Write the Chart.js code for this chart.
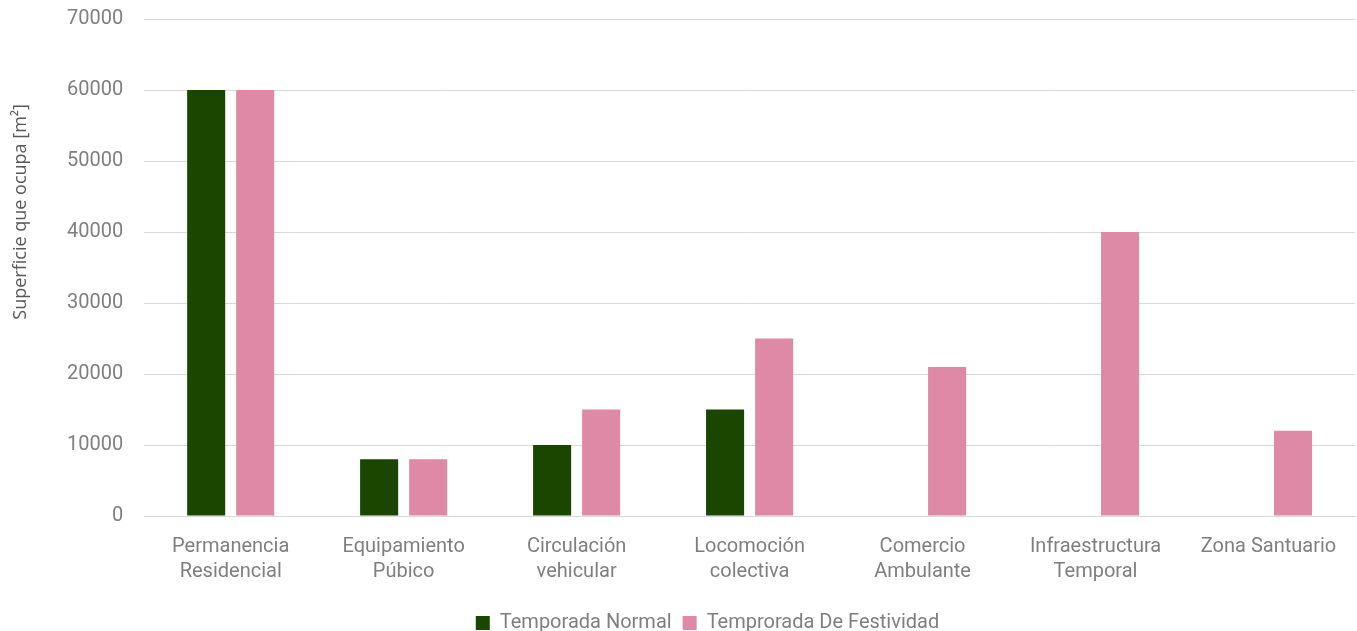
<!DOCTYPE html>
<html>
<head>
<meta charset="utf-8">
<script src="https://cdn.jsdelivr.net/npm/chart.js@4/dist/chart.umd.min.js"></script>
<style>
  html, body { margin: 0; padding: 0; background: #ffffff; }
  #wrap { width: 1357px; height: 631px; position: relative; }
</style>
</head>
<body>
<div id="wrap"><canvas id="chart"></canvas></div>
<script>
// Land use by category, in square metres
const categories = [
  ["Permanencia", "Residencial"],
  ["Equipamiento", "Púbico"],
  ["Circulación", "vehicular"],
  ["Locomoción", "colectiva"],
  ["Comercio", "Ambulante"],
  ["Infraestructura", "Temporal"],
  "Zona Santuario"
];
const temporadaNormal = [60000, 8000, 10000, 15000, 0, 0, 0];
const temporadaFestividad = [60000, 8000, 15000, 25000, 21000, 40000, 12000];
const seriesNames = ["Temporada Normal", "Temprorada De Festividad"];
const yTicks = [0, 10000, 20000, 30000, 40000, 50000, 60000, 70000];
const yAxisTitle = "Superficie que ocupa [m²]";

const textColor = "#7f7f7f";
const fontFamily = "Roboto, 'DejaVu Sans', sans-serif";

// Vertical axis title, placed in the left margin and raised toward the upper part of the plot
const yTitlePlugin = {
  id: "yTitle",
  afterDraw(chart) {
    const ctx = chart.ctx;
    const area = chart.chartArea;
    ctx.save();
    ctx.translate(21, area.top + (area.bottom - area.top) * 0.388);
    ctx.rotate(-Math.PI / 2);
    ctx.font = "18px 'Open Sans', sans-serif";
    ctx.fillStyle = "#595959";
    ctx.textAlign = "center";
    ctx.textBaseline = "middle";
    ctx.fillText(yAxisTitle, 0, 0);
    ctx.restore();
  }
};

new Chart(document.getElementById("chart"), {
  type: "bar",
  data: {
    labels: categories,
    datasets: [
      {
        label: seriesNames[0],
        data: temporadaNormal,
        backgroundColor: "#1a4600",
        categoryPercentage: 0.567,
        barPercentage: 0.776
      },
      {
        label: seriesNames[1],
        data: temporadaFestividad,
        backgroundColor: "#de8aa7",
        categoryPercentage: 0.567,
        barPercentage: 0.776
      }
    ]
  },
  plugins: [yTitlePlugin],
  options: {
    responsive: true,
    maintainAspectRatio: false,
    animation: false,
    layout: { padding: { top: 0, right: 2, left: 60, bottom: -12 } },
    plugins: {
      tooltip: { enabled: false },
      legend: {
        position: "bottom",
        labels: {
          color: textColor,
          font: { family: fontFamily, size: 20 },
          boxWidth: 14,
          boxHeight: 14,
          padding: 11
        }
      }
    },
    scales: {
      x: {
        grid: { display: false, drawTicks: false },
        border: { display: true, color: "#d9d9d9", width: 1 },
        ticks: {
          color: textColor,
          font: { family: fontFamily, size: 20, lineHeight: 1.25 },
          maxRotation: 0,
          autoSkip: false,
          padding: 18
        }
      },
      y: {
        min: 0,
        max: 70000,
        afterBuildTicks: (axis) => { axis.ticks = yTicks.map(v => ({ value: v })); },
        grid: { color: "#d9d9d9", lineWidth: 1, drawTicks: true, tickLength: 14, tickColor: "rgba(0,0,0,0)" },
        border: { display: false },
        ticks: {
          color: textColor,
          font: { family: fontFamily, size: 20 },
          padding: 7,
          callback: (v) => String(v)
        }
      }
    }
  }
});
</script>
</body>
</html>
